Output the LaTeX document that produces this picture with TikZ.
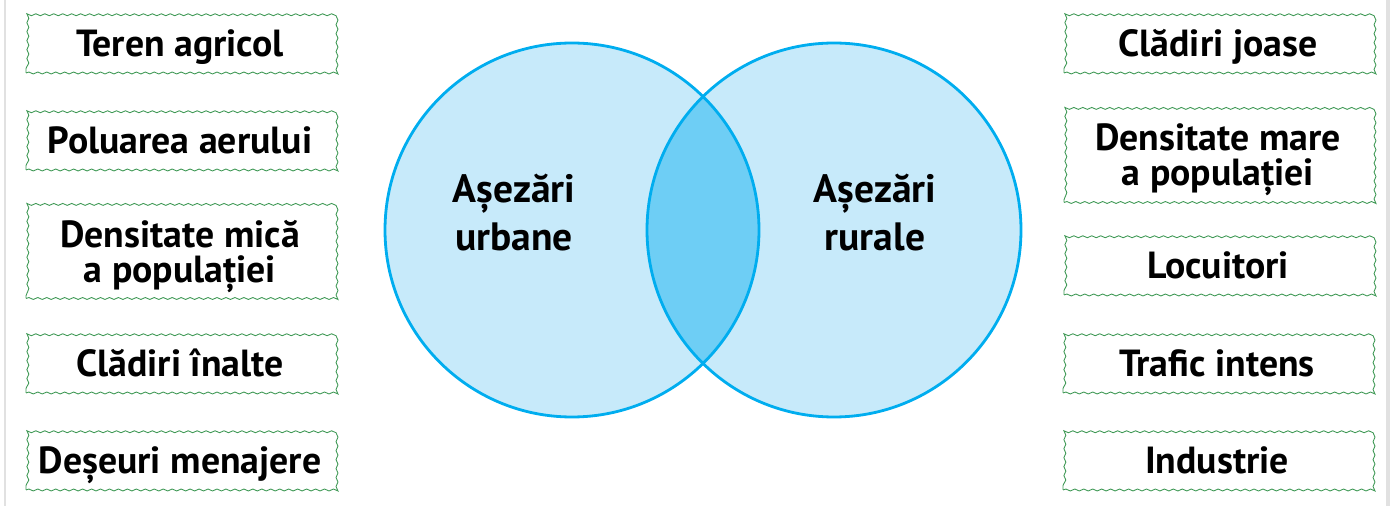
\documentclass[tikz,border=0pt]{standalone}
\usepackage{fontspec}
\setmainfont{PT Sans}
\usetikzlibrary{positioning, decorations.pathmorphing}
\definecolor{wavegreen}{RGB}{62,152,84}
\definecolor{vennfill}{RGB}{199,234,250}
\definecolor{vennmid}{RGB}{110,206,245}
\definecolor{vennline}{RGB}{0,173,239}
\definecolor{edgegray}{RGB}{225,225,225}

\begin{document}
\begin{tikzpicture}[
	x = 0.02cm, y = -0.02cm,
	card/.style = {draw=wavegreen, line width=0.5pt,
		decorate, decoration={snake, amplitude=0.55pt, segment length=5.1pt},
		minimum width=6.16cm, minimum height=1.2cm, inner sep=0pt,
		text depth=0pt, align=center,
		font=\fontsize{21.5}{20}\selectfont\bfseries},
	tall/.style = {minimum height=1.9cm},
	set/.style = {align=center, text depth=0pt,
		font=\fontsize{22.5}{27.2}\selectfont\bfseries},
	ring/.style = {draw=vennline, line width=1.6pt},
	]
	\useasboundingbox (0,0) rectangle (1390,506);
	% screenshot edges
	\fill[edgegray] (4,0) rectangle (5.5,506);
	\fill[edgegray] (1386,0) rectangle (1390,506);
	% venn
	\fill[vennfill] (572,230) circle[radius=187];
	\fill[vennfill] (834,230) circle[radius=187];
	\begin{scope}
		\clip (572,230) circle[radius=187];
		\fill[vennmid] (834,230) circle[radius=187];
	\end{scope}
	\draw[ring] (572,230) circle[radius=187];
	\draw[ring] (834,230) circle[radius=187];
	\node[set] (urban) at (514,212) {Așezări\\urbane};
	\node[set] (rural) at (875,212) {Așezări\\rurale};
	% left cards
	\node[card] (agri)   at (180,43)  {Teren agricol};
	\node[card] (aer)    at (180,140) {Poluarea aerului};
	\node[card, tall] (dmica) at (180,251) {Densitate mică\\a populației};
	\node[card] (inalte) at (180,363) {Clădiri înalte};
	\node[card] (deseu)  at (180,460) {Deșeuri menajere};
	% right cards
	\node[card] (joase)  at (1218,43)  {Clădiri joase};
	\node[card, tall] (dmare) at (1218,155) {Densitate mare\\a populației};
	\node[card] (locuit) at (1218,265) {Locuitori};
	\node[card] (trafic) at (1217,363) {Trafic intens};
	\node[card] (indus)  at (1217,460) {Industrie};
\end{tikzpicture}
\end{document}
